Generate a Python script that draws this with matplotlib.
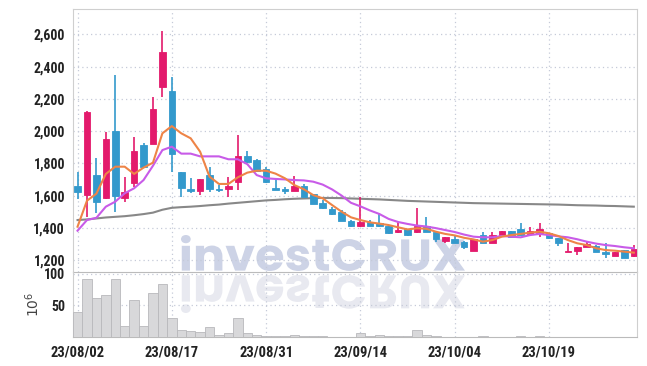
import numpy as np
import matplotlib.pyplot as plt
from matplotlib.textpath import TextPath
from matplotlib.patches import PathPatch
from matplotlib.font_manager import FontProperties, fontManager
from matplotlib.transforms import Affine2D

# trading days (KRX)
dates = ['23/08/02', '23/08/03', '23/08/04', '23/08/07', '23/08/08', '23/08/09', '23/08/10',
         '23/08/11', '23/08/14', '23/08/16', '23/08/17', '23/08/18', '23/08/21', '23/08/22',
         '23/08/23', '23/08/24', '23/08/25', '23/08/28', '23/08/29', '23/08/30', '23/08/31',
         '23/09/01', '23/09/04', '23/09/05', '23/09/06', '23/09/07', '23/09/08', '23/09/11',
         '23/09/12', '23/09/13', '23/09/14', '23/09/15', '23/09/18', '23/09/19', '23/09/20',
         '23/09/21', '23/09/22', '23/09/25', '23/09/26', '23/09/27', '23/10/04', '23/10/05',
         '23/10/06', '23/10/10', '23/10/11', '23/10/12', '23/10/13', '23/10/16', '23/10/17',
         '23/10/18', '23/10/19', '23/10/20', '23/10/23', '23/10/24', '23/10/25', '23/10/26',
         '23/10/27', '23/10/30', '23/10/31', '23/11/01']

opens = [1661, 1603, 1727, 1587, 2000, 1583, 1676, 1913, 1920, 2275,
         2248, 1744, 1641, 1630, 1727, 1643, 1639, 1682, 1845, 1820,
         1763, 1647, 1641, 1628, 1661, 1610, 1552, 1517, 1496, 1442,
         1413, 1438, 1430, 1409, 1372, 1390, 1376, 1409, 1373, 1320,
         1330, 1314, 1257, 1355, 1304, 1351, 1380, 1390, 1360, 1366,
         1366, 1335, 1248, 1258, 1279, 1287, 1252, 1225, 1262, 1227]
highs = [1748, 2125, 1835, 1996, 2348, 1717, 1961, 1924, 2213, 2622,
         2337, 1746, 1707, 1705, 1775, 1665, 1717, 1976, 1878, 1827,
         1775, 1707, 1651, 1721, 1672, 1612, 1572, 1531, 1510, 1448,
         1593, 1448, 1492, 1411, 1438, 1392, 1521, 1465, 1376, 1341,
         1349, 1320, 1331, 1376, 1372, 1380, 1382, 1432, 1407, 1432,
         1368, 1337, 1308, 1279, 1314, 1293, 1308, 1252, 1262, 1293]
lows = [1579, 1469, 1494, 1580, 1500, 1562, 1655, 1769, 1918, 2209,
        1748, 1589, 1618, 1601, 1624, 1624, 1593, 1634, 1800, 1748,
        1676, 1634, 1610, 1626, 1593, 1546, 1517, 1479, 1444, 1407,
        1407, 1411, 1407, 1362, 1370, 1351, 1366, 1376, 1314, 1304,
        1308, 1269, 1256, 1304, 1304, 1351, 1345, 1355, 1360, 1345,
        1329, 1287, 1248, 1231, 1279, 1248, 1211, 1225, 1211, 1221]
closes = [1624, 2120, 1562, 1951, 1599, 1620, 1876, 1779, 2137, 2488,
          1856, 1649, 1628, 1701, 1641, 1636, 1659, 1845, 1810, 1754,
          1686, 1636, 1626, 1659, 1593, 1550, 1525, 1488, 1444, 1411,
          1438, 1414, 1410, 1368, 1386, 1353, 1409, 1376, 1330, 1341,
          1308, 1278, 1330, 1304, 1355, 1380, 1345, 1355, 1380, 1390,
          1335, 1304, 1258, 1279, 1300, 1248, 1238, 1252, 1211, 1267]

ma5 = [1407, 1568, 1612, 1734, 1779, 1779, 1734, 1773, 1804, 1986,
       2031, 1986, 1955, 1872, 1717, 1672, 1672, 1713, 1742, 1754,
       1754, 1736, 1707, 1665, 1639, 1603, 1583, 1541, 1500, 1465,
       1448, 1434, 1426, 1417, 1403, 1390, 1397, 1394, 1376, 1362,
       1353, 1338, 1328, 1314, 1324, 1345, 1355, 1362, 1370, 1376,
       1366, 1349, 1324, 1304, 1293, 1273, 1262, 1258, 1252, 1246]
ma20 = [1382, 1448, 1462, 1531, 1562, 1614, 1645, 1696, 1785, 1882,
        1903, 1860, 1860, 1843, 1843, 1843, 1825, 1825, 1795, 1727,
        1707, 1703, 1700, 1696, 1694, 1686, 1668, 1638, 1600, 1555,
        1533, 1508, 1486, 1455, 1436, 1424, 1414, 1408, 1398, 1386,
        1374, 1358, 1345, 1341, 1341, 1349, 1345, 1341, 1355, 1362,
        1355, 1347, 1341, 1329, 1314, 1302, 1293, 1287, 1279, 1273]
ma120 = [1448, 1452, 1458, 1464, 1468, 1472, 1478, 1485, 1494, 1512,
         1524, 1528, 1531, 1535, 1540, 1544, 1550, 1555, 1560, 1565,
         1570, 1573, 1577, 1580, 1582, 1584, 1585, 1585, 1584, 1582,
         1580, 1578, 1576, 1573, 1570, 1567, 1565, 1563, 1561, 1559,
         1557, 1555, 1553, 1552, 1551, 1550, 1549, 1548, 1547, 1546,
         1545, 1544, 1542, 1540, 1539, 1538, 1536, 1535, 1533, 1531]

# volume in millions
volume = [39, 92, 61, 67, 92, 17, 58, 17, 70, 83,
          30, 12, 10, 8, 16, 4, 6, 30, 6, 4,
          2, 2, 1.5, 3.6, 2, 1.5, 1.5, 1, 1, 1,
          6, 2, 3.5, 2, 1.5, 2, 12, 4, 1.5, 1,
          1, 1, 1, 1.5, 1, 1, 1, 1.5, 1, 1.5,
          1, 1, 1, 1, 1, 1, 1, 1, 1, 1]

RED = '#e31a6c'
BLUE = '#3399cc'


def pick(cands, min_weight=0):
    for n in cands:
        if any(f.name == n and f.weight >= min_weight for f in fontManager.ttflist):
            return n
    return 'DejaVu Sans'


lab_font = pick(['Roboto Condensed', 'Barlow Semi Condensed', 'PT Sans Narrow',
                 'Archivo Narrow', 'Liberation Sans Narrow', 'Liberation Sans'])
wm_font = pick(['Rubik', 'Nunito', 'M PLUS Rounded 1c', 'Fredoka', 'Poppins', 'DejaVu Sans'], 700)

W, H = 647, 366
fig = plt.figure(figsize=(W / 100, H / 100), dpi=100)
ax = fig.add_axes([73.3 / W, 1 - 272.3 / H, 564 / W, 263.3 / H], facecolor='none')
axv = fig.add_axes([73.3 / W, 1 - 337.3 / H, 564 / W, 65 / H], facecolor='none', sharex=ax)

x = np.arange(len(dates))
o = np.array(opens)
c = np.array(closes)
cols = [RED if cc >= oo else BLUE for oo, cc in zip(o, c)]

ax.vlines(x, lows, highs, colors=cols, lw=1.2, zorder=3)
ax.bar(x, np.abs(c - o), bottom=np.minimum(o, c), width=0.7, color=cols,
       edgecolor=cols, lw=0.6, zorder=4)
ax.plot(x, ma120, color='#888888', lw=1.5, zorder=2)
ax.plot(x, ma20, color='#c85be8', lw=1.5, zorder=5)
ax.plot(x, ma5, color='#ee8447', lw=1.5, zorder=6)

axv.bar(x, volume, width=1.0, color='#d8d8da', edgecolor='#b8b8bc', lw=0.6, zorder=3)

grid_kw = dict(color='#c5cad8', lw=0.9, ls=(0, (1, 2.5)))
for a in (ax, axv):
    a.grid(True, **grid_kw)
    a.set_axisbelow(True)
    a.tick_params(length=0, colors='#222222')
    for s in a.spines.values():
        s.set_color('#cfcfcf')

lab_kw = dict(family=lab_font, weight='bold')
ax.set_xlim(-0.45, 59.37)
ax.set_ylim(1124, 2757)
ax.set_yticks([1200, 1400, 1600, 1800, 2000, 2200, 2400, 2600])
ax.set_yticklabels(['1,200', '1,400', '1,600', '1,800', '2,000', '2,200', '2,400', '2,600'],
                   fontsize=10, **lab_kw)
ax.set_xticks(x[::10])
ax.tick_params(axis='x', labelbottom=False)
ax.tick_params(axis='y', pad=6)
ax.spines['bottom'].set_color('#bbbbbb')

axv.set_ylim(0, 102)
axv.set_yticks([50, 100])
axv.set_yticklabels(['50', '100'], fontsize=10, **lab_kw)
axv.tick_params(axis='y', pad=6)
axv.set_xticklabels(dates[::10], fontsize=10.5, **lab_kw)
axv.tick_params(axis='x', pad=6)
axv.spines['top'].set_visible(False)
axv.spines['bottom'].set_color('#bbbbbb')

fig.text(33 / W, 1 - 304 / H, r'$10^6$', rotation=90, ha='center', va='center',
         fontsize=10, color='#444444')

# watermark with reflection
tp = TextPath((0, 0), 'investCRUX', size=50, prop=FontProperties(family=wm_font, weight='bold'))
ext = tp.get_extents()
sx = (465 - 181) / ext.width
up = (Affine2D().translate(-ext.x0, -ext.y0).scale(sx, (271 - 235) / ext.height)
      .translate(181, H - 271).scale(1 / W, 1 / H))
dn = (Affine2D().translate(-ext.x0, -ext.y0).scale(sx, -(313 - 275) / ext.height)
      .translate(181, H - 275).scale(1 / W, 1 / H))
fig.add_artist(PathPatch(up.transform_path(tp), fc='#cdd3e6', ec='none',
                         transform=fig.transFigure, zorder=-1))
fig.add_artist(PathPatch(dn.transform_path(tp), fc='#e8e9f0', ec='none',
                         transform=fig.transFigure, zorder=-1))

fig.savefig('out.png', dpi=100, facecolor='white')
